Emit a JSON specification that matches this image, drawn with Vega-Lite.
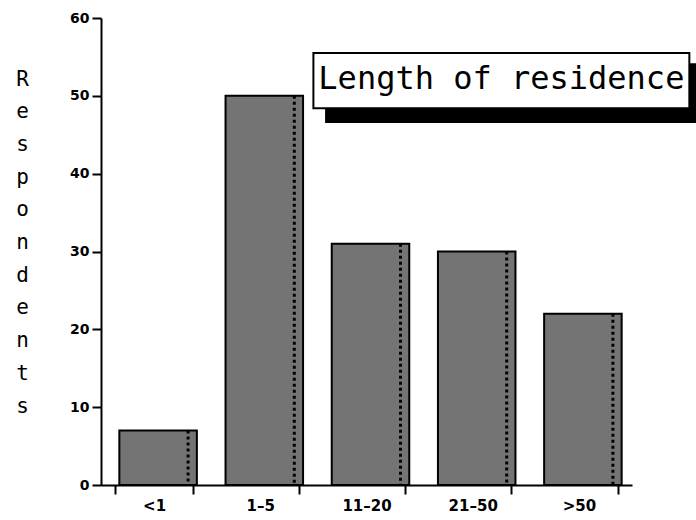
{
  "$schema": "https://vega.github.io/schema/vega-lite/v6.json",
  "width": 531,
  "height": 467,
  "autosize": "none",
  "padding": {"left": 101, "top": 18, "right": 64, "bottom": 35},
  "background": "white",
  "config": {
    "view": {"stroke": null},
    "axis": {
      "domainColor": "black",
      "domainWidth": 2,
      "tickColor": "black",
      "tickWidth": 2,
      "tickSize": 9,
      "labelColor": "black",
      "labelFont": "DejaVu Sans",
      "labelFontWeight": "bold",
      "labelFontSize": 15,
      "grid": false
    }
  },
  "layer": [
    {
      "data": {
        "values": [
          {"residence": "<1", "respondents": 7},
          {"residence": "1-5", "respondents": 50},
          {"residence": "11-20", "respondents": 31},
          {"residence": "21-50", "respondents": 30},
          {"residence": ">50", "respondents": 22}
        ]
      },
      "encoding": {
        "x": {
          "field": "residence",
          "type": "nominal",
          "sort": null,
          "scale": {"paddingInner": 0.27, "paddingOuter": 0.135},
          "axis": {
            "title": null,
            "labelAngle": 0,
            "tickBand": "extent",
            "labelPadding": 4,
            "labelExpr": "replace(datum.label, '-', '–')"
          }
        },
        "y": {
          "field": "respondents",
          "type": "quantitative",
          "scale": {"domain": [0, 60], "nice": false},
          "axis": {
            "values": [0, 10, 20, 30, 40, 50, 60],
            "labelPadding": 3,
            "labelFontSize": 14,
            "title": ["R", "e", "s", "p", "o", "n", "d", "e", "n", "t", "s"],
            "titleAngle": 0,
            "titleFont": "DejaVu Sans Mono",
            "titleFontSize": 21,
            "titleFontWeight": "normal",
            "titleColor": "black",
            "titleLineHeight": 32.7,
            "titleAlign": "center",
            "titleBaseline": "top",
            "titleX": -79,
            "titleY": 50
          }
        }
      },
      "layer": [
        {
          "mark": {"type": "bar", "fill": "#747474", "stroke": "black", "strokeWidth": 2, "xOffset": 4}
        },
        {
          "mark": {"type": "rule", "xOffset": 34, "strokeDash": [3, 3], "strokeWidth": 3, "color": "black"},
          "encoding": {"y2": {"datum": 0}}
        }
      ]
    },
    {
      "data": {"values": [{"title": "Length of residence"}]},
      "layer": [
        {
          "mark": {"type": "rect", "fill": "black"},
          "encoding": {
            "x": {"datum": 2.11, "type": "quantitative", "scale": {"domain": [0, 5], "nice": false}, "axis": null},
            "x2": {"datum": 5.7},
            "y": {"datum": 54.2, "type": "quantitative"},
            "y2": {"datum": 46.5}
          }
        },
        {
          "mark": {"type": "rect", "fill": "white", "stroke": "black", "strokeWidth": 2},
          "encoding": {
            "x": {"datum": 2.0, "type": "quantitative", "scale": {"domain": [0, 5], "nice": false}, "axis": null},
            "x2": {"datum": 5.54},
            "y": {"datum": 55.5, "type": "quantitative"},
            "y2": {"datum": 48.4}
          }
        },
        {
          "mark": {"type": "text", "font": "DejaVu Sans Mono", "fontSize": 32, "color": "black", "align": "center", "baseline": "middle"},
          "encoding": {
            "x": {"datum": 3.77, "type": "quantitative", "scale": {"domain": [0, 5], "nice": false}, "axis": null},
            "y": {"datum": 52.2, "type": "quantitative"},
            "text": {"field": "title"}
          }
        }
      ]
    }
  ],
  "resolve": {"scale": {"x": "independent"}}
}
